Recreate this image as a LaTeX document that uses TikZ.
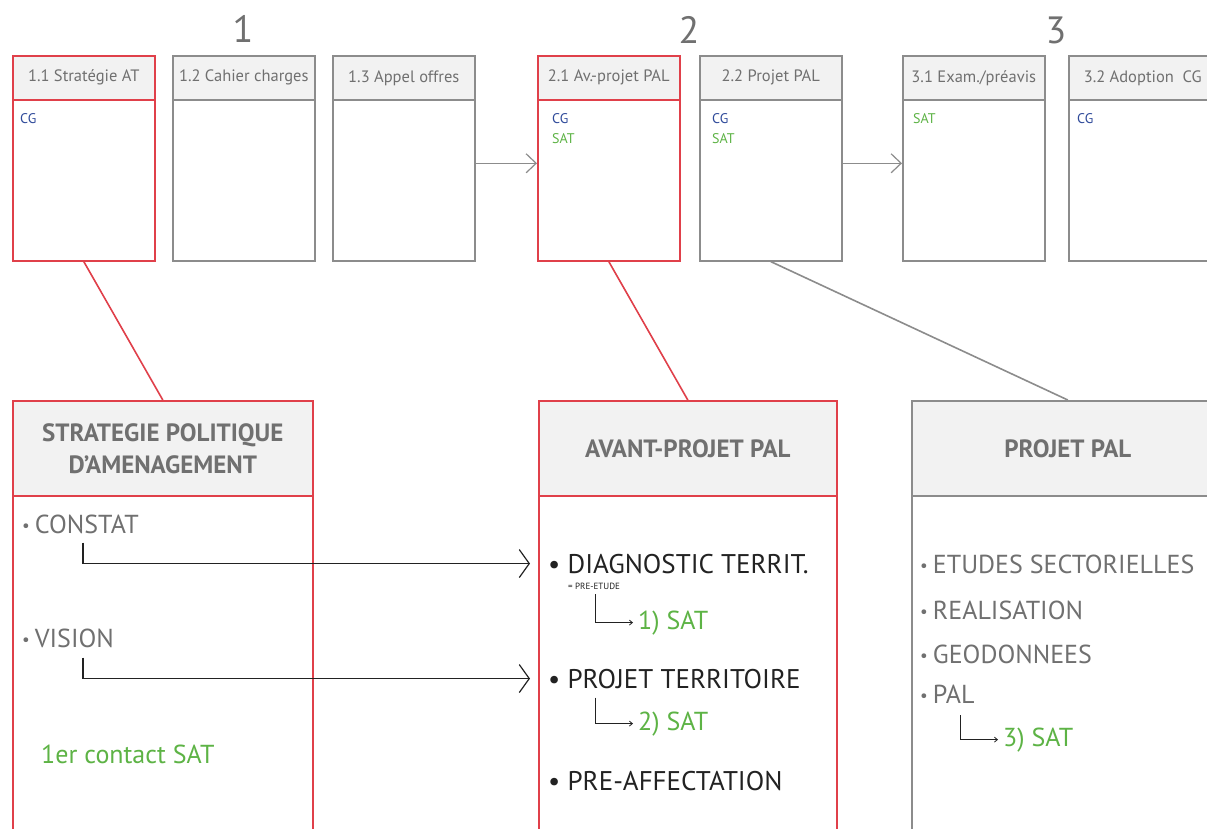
\documentclass[tikz,border=0pt]{standalone}
\usepackage{fontspec}
\setmainfont{PT Sans}
\usetikzlibrary{positioning, arrows.meta}
\newcommand{\taille}[1]{\fontsize{#1}{#1}\selectfont}
\newcommand{\puce}{\raisebox{2pt}{\taille{17}•}\kern5pt}
\definecolor{rouge}{HTML}{E0404A}
\definecolor{gris}{HTML}{8C8C8C}
\definecolor{fond}{HTML}{F2F2F2}
\definecolor{gristexte}{HTML}{707070}
\definecolor{bleu}{HTML}{2F4A9A}
\definecolor{vert}{HTML}{5DB345}
\definecolor{noir}{HTML}{222222}
\tikzstyle{etape} = [draw=gris, line width=1.6pt, minimum width=142pt, minimum height=205pt, inner sep=0pt, anchor=north west]
\tikzstyle{entete} = [draw=gris, fill=fond, line width=1.6pt, minimum width=142pt, minimum height=44pt, inner sep=0pt, anchor=north, text=gristexte, font=\taille{16.5}]
\tikzstyle{bloc} = [draw=gris, line width=1.6pt, minimum height=440pt, inner sep=0pt, anchor=north west]
\tikzstyle{bloctete} = [draw=gris, fill=fond, line width=1.6pt, minimum height=95pt, inner sep=0pt, anchor=north, text=gristexte, font=\bfseries\fontsize{25}{32}\selectfont, align=center]
\tikzstyle{role} = [inner sep=0pt, anchor=base west, font=\taille{14}]
\tikzstyle{numero} = [inner sep=0pt, anchor=base, text=gristexte, font=\taille{38}]
\tikzstyle{item} = [inner sep=0pt, anchor=base west, text=gristexte, font=\taille{26}]
\tikzstyle{mini} = [inner sep=0pt, anchor=base west, text=noir, font=\taille{9}]
\tikzstyle{fleche} = [-{Straight Barb[length=10pt,width=28pt]}, line width=1.2pt, draw=noir]
\tikzstyle{flechegrise} = [-{Straight Barb[length=10pt,width=19pt]}, line width=1.2pt, draw=gris]
\tikzstyle{petitefleche} = [-{Straight Barb[length=3pt,width=5pt]}, line width=0.8pt, draw=noir]

\begin{document}
\begin{tikzpicture}[x=1pt, y=-1pt]
	\useasboundingbox (0,0) rectangle (1207,828);
	\fill[white] (0,0) rectangle (1207,828);
	% phases
	\node[numero] (n1) at (243,42) {1};
	\node[numero] (n2) at (689,43) {2};
	\node[numero] (n3) at (1056,43) {3};
	% etapes du haut
	\node[etape, draw=rouge] (e11) at (12,55) {};
	\node[entete, draw=rouge] (t11) at (e11.north) {1.1 Stratégie AT};
	\node[etape] (e12) at (172,55) {};
	\node[entete] (t12) at (e12.north) {1.2 Cahier charges};
	\node[etape] (e13) at (332,55) {};
	\node[entete] (t13) at (e13.north) {1.3 Appel offres};
	\node[etape, draw=rouge] (e21) at (537,55) {};
	\node[entete, draw=rouge] (t21) at (e21.north) {2.1 Av.-projet PAL};
	\node[etape] (e22) at (699,55) {};
	\node[entete] (t22) at (e22.north) {2.2 Projet PAL};
	\node[etape] (e31) at (902,55) {};
	\node[entete] (t31) at (e31.north) {3.1 Exam./préavis};
	\node[etape, minimum width=160pt] (e32) at (1068,55) {};
	\node[entete, minimum width=160pt] (t32) at (e32.north) {\hspace*{-12pt}3.2 Adoption~~CG};
	% acteurs
	\node[role, text=bleu] (cg11) at ([xshift=8pt, yshift=-68pt]e11.north west) {CG};
	\node[role, text=bleu] (cg21) at ([xshift=15pt, yshift=-68pt]e21.north west) {CG};
	\node[role, text=vert] (sat21) at ([xshift=15pt, yshift=-88pt]e21.north west) {SAT};
	\node[role, text=bleu] (cg22) at ([xshift=13pt, yshift=-68pt]e22.north west) {CG};
	\node[role, text=vert] (sat22) at ([xshift=13pt, yshift=-88pt]e22.north west) {SAT};
	\node[role, text=vert] (sat31) at ([xshift=11pt, yshift=-68pt]e31.north west) {SAT};
	\node[role, text=bleu] (cg32) at ([xshift=9pt, yshift=-68pt]e32.north west) {CG};
	\draw[flechegrise] ([yshift=-5pt]e13.east) -- ([yshift=-5pt]e21.west);
	\draw[flechegrise] ([yshift=-5pt]e22.east) -- ([yshift=-5pt]e31.west);
	% blocs du bas
	\node[bloc, draw=rouge, minimum width=300pt] (b1) at (12,400) {};
	\node[bloctete, draw=rouge, minimum width=300pt] (bt1) at (b1.north) {STRATEGIE POLITIQUE\\D'AMENAGEMENT};
	\node[bloc, draw=rouge, minimum width=298pt] (b2) at (538,400) {};
	\node[bloctete, draw=rouge, minimum width=298pt] (bt2) at (b2.north) {AVANT-PROJET PAL};
	\node[bloc, minimum width=312pt] (b3) at (911,400) {};
	\node[bloctete, minimum width=312pt] (bt3) at (b3.north) {PROJET PAL};
	\draw[rouge, line width=1.6pt] (e11.south) -- (bt1.north);
	\draw[rouge, line width=1.6pt] (e21.south) -- (bt2.north);
	\draw[gris, line width=1.6pt] (e22.south) -- (bt3.north);
	% contenu
	\node[item] (constat) at (22,533) {\puce CONSTAT};
	\node[item] (vision) at (22,647) {\puce VISION};
	\node[item, text=vert] (contact) at (41,763) {1er contact SAT};
	\node[item, text=noir, font=\taille{27}] (diag) at (548,573) {• DIAGNOSTIC TERRIT.};
	\node[mini] (pre) at (568,589) {= PRE-ETUDE};
	\node[item, text=vert] (sat1) at (638,629) {1) SAT};
	\node[item, text=noir, font=\taille{27}] (projter) at (548,688) {• PROJET TERRITOIRE};
	\node[item, text=vert] (sat2) at (638,730) {2) SAT};
	\node[item, text=noir, font=\taille{27}] (preaff) at (548,790) {• PRE-AFFECTATION};
	\node[item] (etudes) at (920,573) {\puce ETUDES SECTORIELLES};
	\node[item] (realis) at (920,619) {\puce REALISATION};
	\node[item] (geo) at (920,663) {\puce GEODONNEES};
	\node[item] (pal) at (920,703) {\puce PAL};
	\node[item, text=vert] (sat3) at (1003,746) {3) SAT};
	\draw[fleche, shorten >=18pt] ([xshift=61pt, yshift=-9pt]constat.south west) |- (diag.west);
	\draw[fleche, shorten >=18pt] ([xshift=61pt, yshift=-10pt]vision.south west) |- (projter.west);
	\draw[petitefleche, shorten >=5pt] ([xshift=27pt, yshift=-5pt]pre.south west) |- (sat1.west);
	\draw[petitefleche, shorten >=5pt] ([xshift=47pt, yshift=-9pt]projter.south west) |- (sat2.west);
	\draw[petitefleche, shorten >=5pt] ([xshift=40pt, yshift=-12pt]pal.south west) |- (sat3.west);
\end{tikzpicture}
\end{document}
